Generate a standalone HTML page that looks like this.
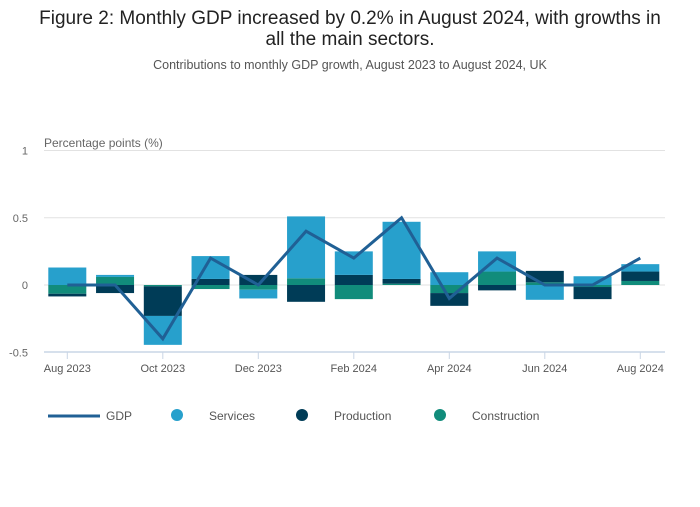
<!DOCTYPE html>
<html><head><meta charset="utf-8"><style>
body{margin:0;width:700px;height:502px;background:#fff;font-family:"Liberation Sans",sans-serif;overflow:hidden}
svg text{font-family:"Liberation Sans",sans-serif}
</style></head><body>
<svg id="chart" width="700" height="502">
<text x="350" y="24" text-anchor="middle" font-size="19" fill="#222">Figure 2: Monthly GDP increased by 0.2% in August 2024, with growths in</text>
<text x="350" y="45" text-anchor="middle" font-size="19" fill="#222">all the main sectors.</text>
<text x="350" y="69" text-anchor="middle" font-size="12.5" fill="#555">Contributions to monthly GDP growth, August 2023 to August 2024, UK</text>
<text x="44" y="147" font-size="12" fill="#666">Percentage points (%)</text>
<g id="grid"></g><g id="bars"></g><g id="line"></g><g id="xaxis"></g>
<g>
<g><line x1="48" y1="416" x2="100" y2="416" stroke="#206095" stroke-width="3"/><text x="106" y="420" font-size="12" fill="#555">GDP</text></g>
<g><circle cx="177" cy="415" r="6" fill="#27a0cc"/><text x="209" y="420" font-size="12" fill="#555">Services</text></g>
<g><circle cx="302" cy="415" r="6" fill="#003c57"/><text x="334" y="420" font-size="12" fill="#555">Production</text></g>
<g><circle cx="440" cy="415" r="6" fill="#118c7b"/><text x="472" y="420" font-size="12" fill="#555">Construction</text></g>
</g>
</svg>
<script>
const months=["Aug 2023","Sep 2023","Oct 2023","Nov 2023","Dec 2023","Jan 2024","Feb 2024","Mar 2024","Apr 2024","May 2024","Jun 2024","Jul 2024","Aug 2024"];
const services=[0.13,0.015,-0.215,0.17,-0.065,0.46,0.175,0.425,0.095,0.15,-0.11,0.065,0.055];
const production=[-0.02,-0.06,-0.22,0.045,0.075,-0.125,0.075,0.035,-0.095,-0.04,0.085,-0.09,0.07];
const construction=[-0.065,0.06,-0.01,-0.03,-0.035,0.05,-0.105,0.01,-0.06,0.1,0.02,-0.015,0.03];
const gdp=[0,0,-0.4,0.2,0,0.4,0.2,0.5,-0.1,0.2,0,0,0.2];
const yTicks=[1,0.5,0,-0.5];
const xTickLabels=["Aug 2023","Oct 2023","Dec 2023","Feb 2024","Apr 2024","Jun 2024","Aug 2024"];
const NS="http://www.w3.org/2000/svg";
const y=v=>285-v*134.5;
const x=i=>67.3+i*47.75;
const bw=38;
function mk(tag,attrs,parent){const e=document.createElementNS(NS,tag);for(const k in attrs)e.setAttribute(k,attrs[k]);parent.appendChild(e);return e;}
const grid=document.getElementById('grid');
yTicks.forEach(t=>{
  if(t!==-0.5){const l=mk('line',{x1:44,x2:665,y1:y(t),y2:y(t),stroke:'#e2e2e2','stroke-width':1},grid);
  
  }
  const tx=mk('text',{x:28,y:y(t)+4,'font-size':11,fill:'#666','text-anchor':'end'},grid);
  tx.textContent=t===0.5?'0.5':t===-0.5?'-0.5':String(t);
  
  
});
const bars=document.getElementById('bars');
const series=[["services",services,"#27a0cc"],["production",production,"#003c57"],["construction",construction,"#118c7b"]];
months.forEach((m,i)=>{
  let pos=0,neg=0;
  [["construction",construction,"#118c7b"],["production",production,"#003c57"],["services",services,"#27a0cc"]].forEach(([n,arr,c])=>{
    const v=arr[i];let a,b;
    if(v>=0){a=pos;b=pos+v;pos=b;}else{a=neg;b=neg+v;neg=b;}
    const r=mk('rect',{x:x(i)-bw/2,y:Math.min(y(a),y(b)),width:bw,height:Math.abs(y(a)-y(b)),fill:c},bars);
    
    
  });
});
const line=document.getElementById('line');
const p=mk('polyline',{points:gdp.map((v,i)=>x(i)+','+y(v)).join(' '),fill:'none',stroke:'#206095','stroke-width':3},line);


const xa=document.getElementById('xaxis');
const ax=mk('line',{x1:44,x2:665,y1:352,y2:352,stroke:'#c9d5e5','stroke-width':1.5},xa);


xTickLabels.forEach(lbl=>{
  const i=months.indexOf(lbl);
  mk('line',{x1:x(i),x2:x(i),y1:352,y2:359,stroke:'#c9d5e5','stroke-width':1},xa);
  const t=mk('text',{x:x(i),y:372,'font-size':11,fill:'#555','text-anchor':'middle'},xa);
  t.textContent=lbl;
  
  
});
</script>
</body></html>
